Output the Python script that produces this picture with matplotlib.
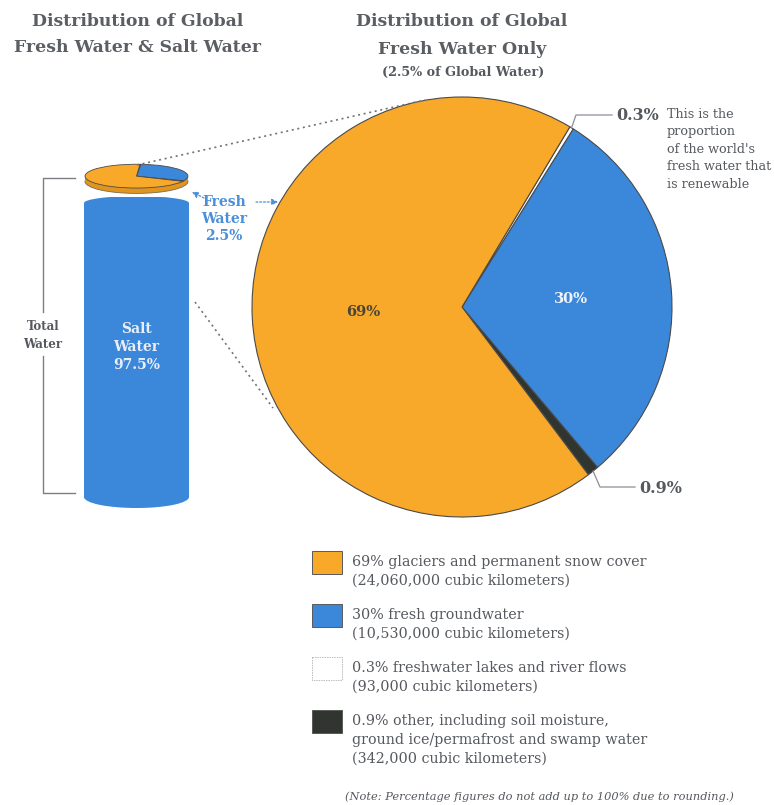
#!/usr/bin/env python3
"""Global water distribution: salt vs fresh water cylinder + fresh water pie."""

import numpy as np
import matplotlib
matplotlib.use("Agg")
import matplotlib.pyplot as plt
from matplotlib.patches import Ellipse, Rectangle

# ---- data -------------------------------------------------------------
total_labels = ["Salt Water", "Fresh Water"]
total_shares = [97.5, 2.5]

fresh_keys = ["glaciers", "groundwater", "lakes", "other"]
fresh_shares = [69, 30, 0.3, 0.9]
fresh_colors = ["#f8a92a", "#3b87d9", "#ffffff", "#30352f"]
fresh_legend = [
    "69% glaciers and permanent snow cover\n(24,060,000 cubic kilometers)",
    "30% fresh groundwater\n(10,530,000 cubic kilometers)",
    "0.3% freshwater lakes and river flows\n(93,000 cubic kilometers)",
    "0.9% other, including soil moisture,\nground ice/permafrost and swamp water\n(342,000 cubic kilometers)",
]
# counter-clockwise drawing order of the wedges
pie_order = [3, 1, 2, 0]

GRAY = "#55595e"
TITLE = "#5b5f64"
BLUE_TXT = "#4a8fd8"
SERIF = "DejaVu Serif"

W, H = 774, 805
fig = plt.figure(figsize=(W / 100, H / 100), dpi=100)
fig.patch.set_facecolor("white")


def px_axes(x0, y0, x1, y1, **kw):
    """Axes placed by pixel box (y measured from top)."""
    return fig.add_axes([x0 / W, 1 - y1 / H, (x1 - x0) / W, (y1 - y0) / H], **kw)


# ---- big fresh water pie ----------------------------------------------
PCX, PCY, PR = 462, 307, 210
ax_pie = px_axes(PCX - PR, PCY - PR, PCX + PR, PCY + PR)
vals = [fresh_shares[i] for i in pie_order]
cols = [fresh_colors[i] for i in pie_order]
wedges, _ = ax_pie.pie(vals, colors=cols, startangle=-53, counterclock=True,
                       wedgeprops={"edgecolor": "#4a4a4a", "linewidth": 0.8})
ax_pie.set_xlim(-1, 1)
ax_pie.set_ylim(-1, 1)
ax_pie.axis("off")

wmap = {pie_order[k]: w for k, w in enumerate(wedges)}


def mid_angle(w):
    return np.deg2rad((w.theta1 + w.theta2) / 2)


for idx, r, col in [(0, 0.47, "#4b4536"), (1, 0.52, "#eef3fb")]:
    a = mid_angle(wmap[idx])
    ax_pie.text(r * np.cos(a), r * np.sin(a), f"{fresh_shares[idx]:g}%",
                ha="center", va="center", fontsize=10.5, fontweight="bold",
                color=col, family=SERIF)

# ---- small disk on top of the cylinder (same fresh-water split) --------
ax_disk = px_axes(84, 164, 189, 194)
ax_disk.add_patch(Ellipse((0, -0.45), 2, 2, facecolor="#e0951f", edgecolor="#7a6a50", lw=0.6))
ax_disk.add_patch(Rectangle((-1, -0.45), 2, 0.45, facecolor="#e0951f", edgecolor="none"))
ax_disk.pie(vals, colors=cols, startangle=-26, counterclock=True,
            wedgeprops={"edgecolor": "#4a4a4a", "linewidth": 0.6})
ax_disk.set_aspect("auto")
ax_disk.set_xlim(-1.02, 1.02)
ax_disk.set_ylim(-1.5, 1.02)
ax_disk.axis("off")

# ---- salt water cylinder ----------------------------------------------
ax_cyl = px_axes(84, 197, 189, 509)
salt = total_shares[0]
ax_cyl.bar([0], [salt], width=2, color="#3b87d9", edgecolor="none")
ax_cyl.add_patch(Ellipse((0, 0), 2, 7.3, facecolor="#3b87d9", edgecolor="none"))
ax_cyl.add_patch(Ellipse((0, salt), 2, 4.6, facecolor="#3b87d9", edgecolor="none"))
ax_cyl.set_xlim(-1, 1)
ax_cyl.set_ylim(-3.98, salt + 2.0)
ax_cyl.axis("off")
ax_cyl.text(0, salt / 2 + 1, f"Salt\nWater\n{salt:g}%", ha="center", va="center",
            fontsize=10, fontweight="bold", color="#e9eff9", family=SERIF,
            linespacing=1.35)

# ---- overlay canvas in pixel coordinates --------------------------------
ax = fig.add_axes([0, 0, 1, 1], zorder=5)
ax.set_xlim(0, W)
ax.set_ylim(H, 0)
ax.axis("off")
ax.patch.set_alpha(0)

# titles
tkw = dict(ha="center", va="center", fontsize=12.4, fontweight="bold",
           color=TITLE, family=SERIF)
ax.text(138, 21, "Distribution of Global", **tkw)
ax.text(138, 48, "Fresh Water & Salt Water", **tkw)
ax.text(462, 21, "Distribution of Global", **tkw)
ax.text(462, 49, "Fresh Water Only", **tkw)
ax.text(463, 72, f"({total_shares[1]:g}% of Global Water)", ha="center", va="center",
        fontsize=9.2, fontweight="bold", color=GRAY, family=SERIF)

# total water bracket
bk = dict(color="#7b7f84", lw=1.0)
ax.plot([75, 43, 43], [178, 178, 312], **bk)
ax.plot([43, 43, 75], [356, 493, 493], **bk)
ax.text(43, 335, "Total\nWater", ha="center", va="center", fontsize=8.5,
        fontweight="bold", color=GRAY, family=SERIF, linespacing=1.5)

# dotted guide lines from disk/cylinder to the pie
dk = dict(color="#6f7378", lw=1.2, linestyle=(0, (1.2, 2.2)))
ax.plot([137, 425], [165, 100], **dk)
ax.plot([195, 273], [302, 408], **dk)

# fresh water label with arrows
ax.text(224, 219, f"Fresh\nWater\n{total_shares[1]:g}%", ha="center", va="center",
        fontsize=10, fontweight="bold", color=BLUE_TXT, family=SERIF, linespacing=1.3)
ak = dict(arrowstyle="-|>,head_length=0.35,head_width=0.18", color=BLUE_TXT,
          lw=0.9, linestyle=(0, (1.5, 1.5)), shrinkA=0, shrinkB=0)
ax.annotate("", xy=(192, 192), xytext=(204, 198), arrowprops=ak)
ax.annotate("", xy=(278, 202), xytext=(256, 202), arrowprops=ak)


def pie_point(idx, r=1.0):
    a = mid_angle(wmap[idx])
    return PCX + PR * r * np.cos(a), PCY - PR * r * np.sin(a)


lk = dict(color="#8a8f95", lw=0.9)
x0, y0 = pie_point(2)
ax.plot([x0, 576, 612], [y0, 115, 115], **lk)
ax.text(616, 116, f"{fresh_shares[2]:g}%", ha="left", va="center", fontsize=11.5,
        fontweight="bold", color=GRAY, family=SERIF)
ax.text(667, 108, "This is the\nproportion\nof the world's\nfresh water that\nis renewable",
        ha="left", va="top", fontsize=9.2, color=GRAY, family=SERIF, linespacing=1.44)

x0, y0 = pie_point(3)
ax.plot([x0, 600, 635], [y0, 487, 487], **lk)
ax.text(639, 488, f"{fresh_shares[3]:g}%", ha="left", va="center", fontsize=11.5,
        fontweight="bold", color=GRAY, family=SERIF)

# legend
item_tops = [551, 604, 657, 710]
for top, col, lab in zip(item_tops, fresh_colors, fresh_legend):
    edge = "#b9bcc0" if col == "#ffffff" else "#5a5a5a"
    ls = (0, (1.5, 1.0)) if col == "#ffffff" else "-"
    ax.add_patch(Rectangle((312, top), 30, 23, facecolor=col, edgecolor=edge,
                           lw=0.7, linestyle=ls))
    ax.text(352, top + 4, lab, ha="left", va="top", fontsize=10.3, color=GRAY,
            family=SERIF, linespacing=1.42)

ax.text(539, 797, "(Note: Percentage figures do not add up to 100% due to rounding.)",
        ha="center", va="center", fontsize=8.2, style="italic", color=GRAY, family=SERIF)

fig.savefig("out.png", dpi=100, facecolor="white")
